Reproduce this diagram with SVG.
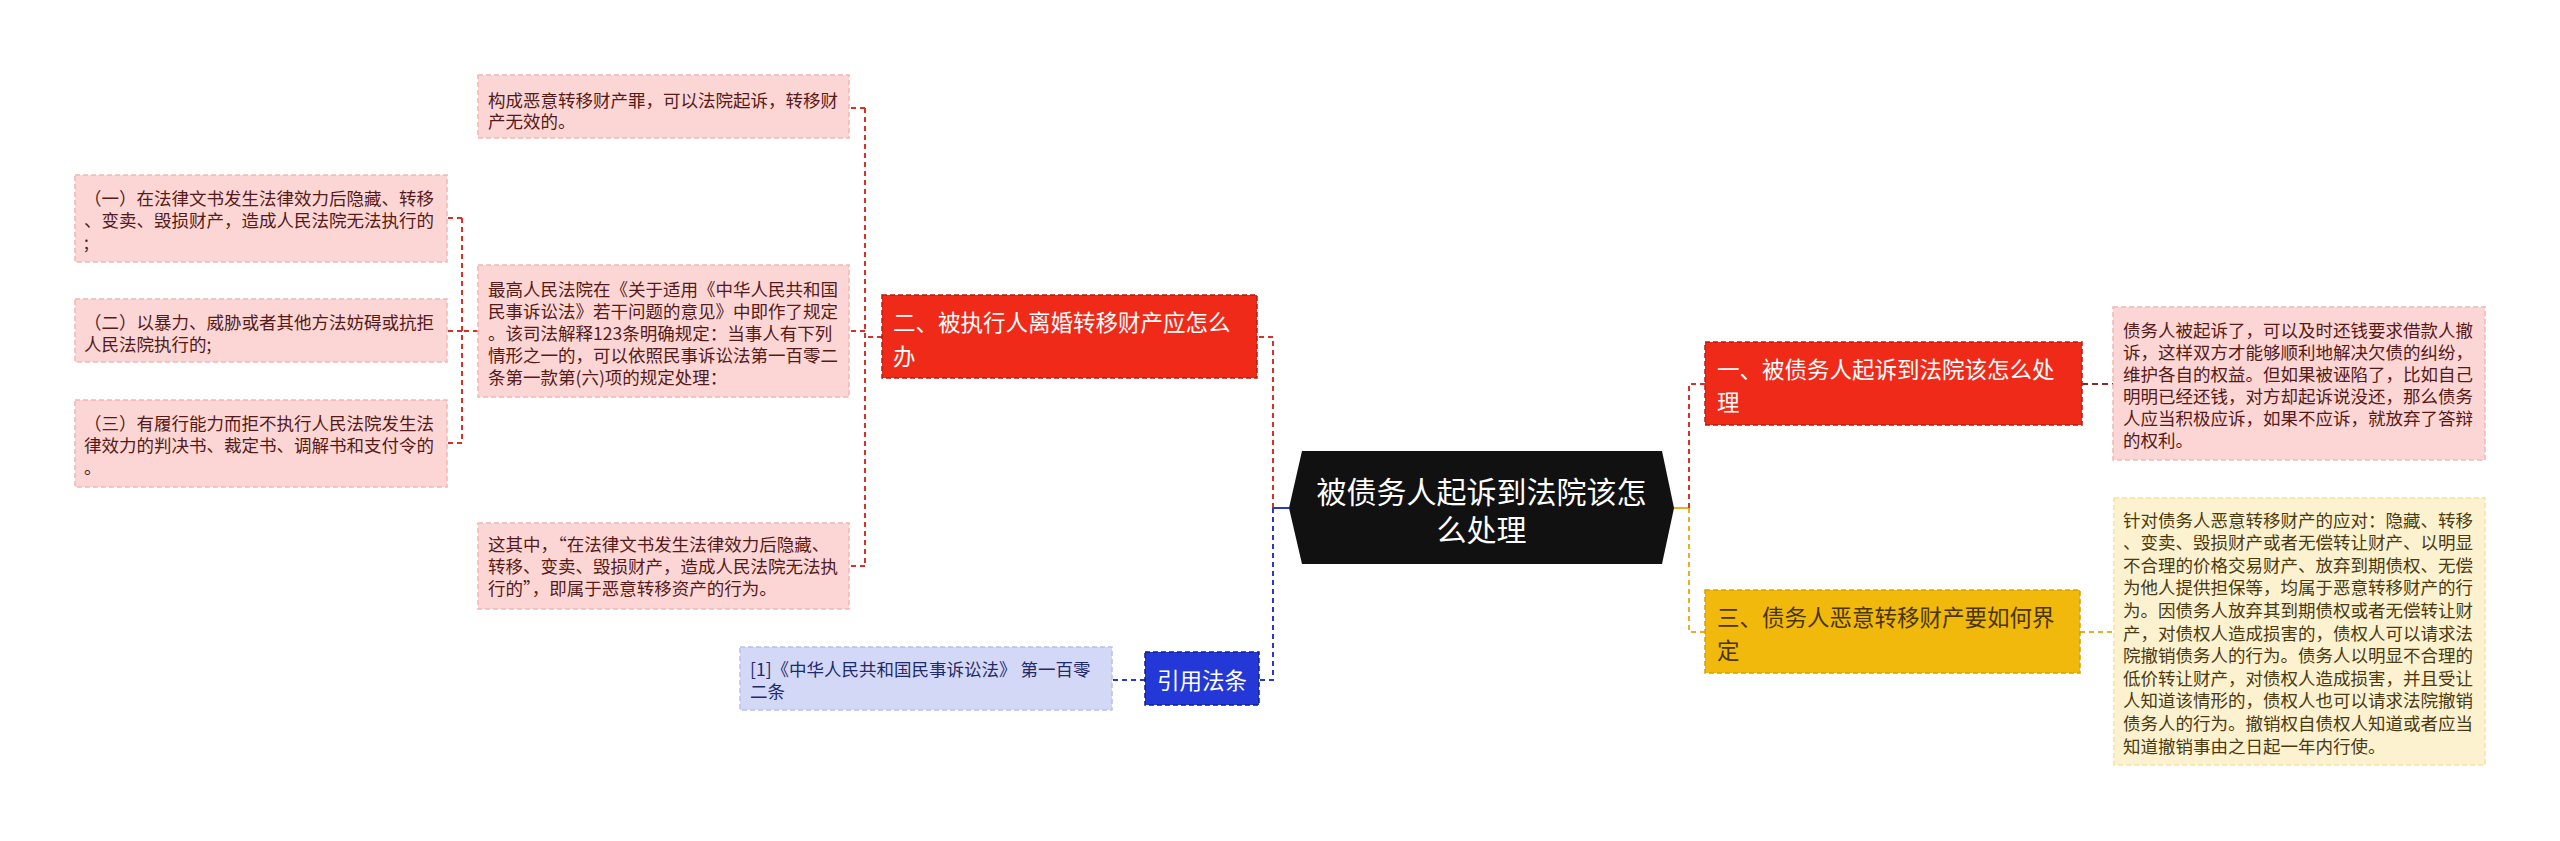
<svg xmlns="http://www.w3.org/2000/svg" width="2560" height="841" viewBox="0 0 2560 841">
<style>
text{font-family:"Noto Sans CJK SC","Microsoft YaHei",sans-serif;dominant-baseline:central}
.pk rect{fill:#fcd6d4;stroke:#f2b6b4;stroke-width:1.5;stroke-dasharray:5 3}
.pk text{font-size:17.5px;fill:#551a1a}
.rd rect{fill:#f02a19;stroke:#b71c10;stroke-width:1.5;stroke-dasharray:5 3}
.rd text{font-size:22.5px;fill:#fff}
.yl rect{fill:#f0b90c;stroke:#d9a000;stroke-width:1.5;stroke-dasharray:5 3}
.yl text{font-size:22.5px;fill:#4a3500}
.yb rect{fill:#fdf2d0;stroke:#f3e2aa;stroke-width:1.5;stroke-dasharray:5 3}
.yb text{font-size:17.5px;fill:#4a3a12}
.bl rect{fill:#2338d6;stroke:#101e8a;stroke-width:1.5;stroke-dasharray:5 3}
.bl text{font-size:22.5px;fill:#fff}
.cb rect{fill:#d3d8f6;stroke:#b9c1ee;stroke-width:1.5;stroke-dasharray:5 3}
.cb text{font-size:17.5px;fill:#1f2a6b}
.root text{font-size:30px;fill:#fff;text-anchor:middle}
#connectors path{fill:none;stroke-width:2}
.cr{stroke:#d8302a;stroke-dasharray:5 4}
.cd{stroke:#8b2b2b;stroke-dasharray:6 4}
.cbl{stroke:#2838c8;stroke-dasharray:5 4}
.cy{stroke:#e8b020;stroke-dasharray:5 4}
</style>
<rect width="2560" height="841" fill="#fff"/>
<g id="connectors">
<path class="cr" d="M1273,508 V337 H1257"/>
<path class="cbl" d="M1273,508 V680 H1259"/>
<path d="M1289,508 H1273" stroke="#2838c8"/>
<path d="M1674,508 H1689" stroke="#e8b020"/>
<path class="cr" d="M1689,508 V384 H1705"/>
<path class="cy" d="M1689,508 V632 H1705"/>
<path class="cr" d="M882,337 H865 M865,108 H849 M865,108 V566 M865,331 H849 M865,566 H849"/>
<path class="cr" d="M478,331 H462 M462,218 V443 M462,218 H447 M462,331 H447 M462,443 H447"/>
<path class="cbl" d="M1145,680 H1112"/>
<path class="cd" d="M2082,384 H2113"/>
<path class="cy" d="M2080,632 H2114"/>
</g>
<g id="root" class="root">
<polygon points="1302,451 1662,451 1674,508 1662,564 1302,564 1289,508" fill="#111"/>
<text x="1481.5" y="490">被债务人起诉到法院该怎</text>
<text x="1481.5" y="528">么处理</text>
</g>
<g id="n2" class="rd">
<rect x="882" y="295" width="375" height="83"/>
<text x="893" y="321">二、被执行人离婚转移财产应怎么</text>
<text x="893" y="355">办</text>
</g>
<g id="n2a" class="pk">
<rect x="478" y="75" width="371" height="63"/>
<text x="488" y="99">构成恶意转移财产罪，可以法院起诉，转移财</text>
<text x="488" y="120">产无效的。</text>
</g>
<g id="n2b" class="pk">
<rect x="478" y="265" width="371" height="132"/>
<text x="488" y="288">最高人民法院在《关于适用《中华人民共和国</text>
<text x="488" y="310">民事诉讼法》若干问题的意见》中即作了规定</text>
<text x="488" y="332">。该司法解释123条明确规定：当事人有下列</text>
<text x="488" y="354">情形之一的，可以依照民事诉讼法第一百零二</text>
<text x="488" y="376">条第一款第(六)项的规定处理：</text>
</g>
<g id="n2b1" class="pk">
<rect x="75" y="175" width="372" height="87"/>
<text x="84" y="197">（一）在法律文书发生法律效力后隐藏、转移</text>
<text x="84" y="219">、变卖、毁损财产，造成人民法院无法执行的</text>
<text x="84" y="241">;</text>
</g>
<g id="n2b2" class="pk">
<rect x="75" y="299" width="372" height="63"/>
<text x="84" y="321">（二）以暴力、威胁或者其他方法妨碍或抗拒</text>
<text x="84" y="343">人民法院执行的;</text>
</g>
<g id="n2b3" class="pk">
<rect x="75" y="400" width="372" height="87"/>
<text x="84" y="422">（三）有履行能力而拒不执行人民法院发生法</text>
<text x="84" y="444">律效力的判决书、裁定书、调解书和支付令的</text>
<text x="84" y="466">。</text>
</g>
<g id="n2c" class="pk">
<rect x="478" y="523" width="371" height="86"/>
<text x="488" y="543">这其中，“在法律文书发生法律效力后隐藏、</text>
<text x="488" y="565">转移、变卖、毁损财产，造成人民法院无法执</text>
<text x="488" y="587">行的”，即属于恶意转移资产的行为。</text>
</g>
<g id="ref" class="bl">
<rect x="1145" y="652" width="114" height="53"/>
<text x="1157" y="679">引用法条</text>
</g>
<g id="ref1" class="cb">
<rect x="740" y="647" width="372" height="63"/>
<text x="750" y="668">[1]《中华人民共和国民事诉讼法》 第一百零</text>
<text x="750" y="690">二条</text>
</g>
<g id="n1" class="rd">
<rect x="1705" y="342" width="377" height="83"/>
<text x="1717" y="368">一、被债务人起诉到法院该怎么处</text>
<text x="1717" y="401">理</text>
</g>
<g id="n1a" class="pk">
<rect x="2113" y="307" width="372" height="153"/>
<text x="2123" y="329">债务人被起诉了，可以及时还钱要求借款人撤</text>
<text x="2123" y="351">诉，这样双方才能够顺利地解决欠债的纠纷，</text>
<text x="2123" y="373">维护各自的权益。但如果被诬陷了，比如自己</text>
<text x="2123" y="395">明明已经还钱，对方却起诉说没还，那么债务</text>
<text x="2123" y="417">人应当积极应诉，如果不应诉，就放弃了答辩</text>
<text x="2123" y="439">的权利。</text>
</g>
<g id="n3" class="yl">
<rect x="1705" y="590" width="375" height="83"/>
<text x="1717" y="616">三、债务人恶意转移财产要如何界</text>
<text x="1717" y="649">定</text>
</g>
<g id="n3a" class="yb">
<rect x="2114" y="498" width="371" height="267"/>
<text x="2123" y="519">针对债务人恶意转移财产的应对：隐藏、转移</text>
<text x="2123" y="541.6">、变卖、毁损财产或者无偿转让财产、以明显</text>
<text x="2123" y="564.2">不合理的价格交易财产、放弃到期债权、无偿</text>
<text x="2123" y="586.8">为他人提供担保等，均属于恶意转移财产的行</text>
<text x="2123" y="609.4">为。因债务人放弃其到期债权或者无偿转让财</text>
<text x="2123" y="632">产，对债权人造成损害的，债权人可以请求法</text>
<text x="2123" y="654.6">院撤销债务人的行为。债务人以明显不合理的</text>
<text x="2123" y="677.2">低价转让财产，对债权人造成损害，并且受让</text>
<text x="2123" y="699.8">人知道该情形的，债权人也可以请求法院撤销</text>
<text x="2123" y="722.4">债务人的行为。撤销权自债权人知道或者应当</text>
<text x="2123" y="745">知道撤销事由之日起一年内行使。</text>
</g>
</svg>
